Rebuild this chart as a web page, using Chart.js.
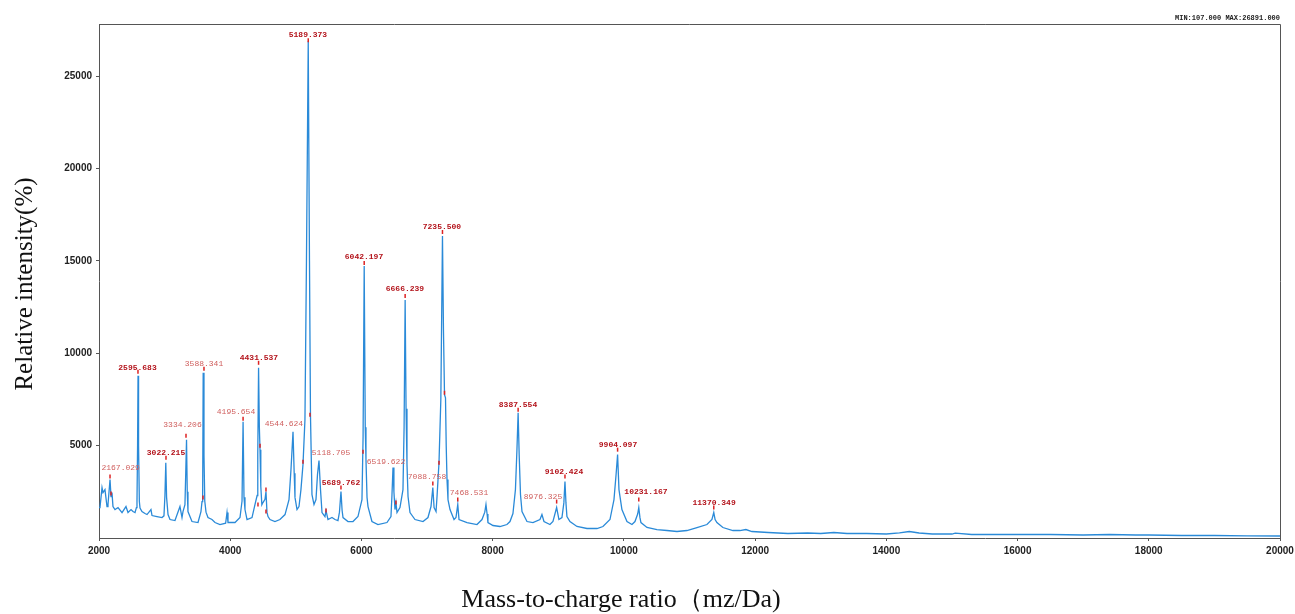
<!DOCTYPE html>
<html>
<head>
<meta charset="utf-8">
<script src="https://cdn.jsdelivr.net/npm/chart.js@4/dist/chart.umd.min.js"></script>
<style>
  html, body { margin: 0; padding: 0; background: #fff; }
  #wrap { width: 1295px; height: 614px; }
</style>
</head>
<body>
<div id="wrap"><canvas id="myChart" width="1295" height="614"></canvas></div>
<script>
// spectrum (m/z, intensity)
const mz = [
  2000, 2015, 2046, 2061, 2091, 2122, 2137, 2155, 2168, 2183, 2198, 2213, 2244, 2290, 2351, 2411, 2442, 2488, 2518, 2549,
  2570, 2579, 2588, 2595, 2603, 2615, 2625, 2655, 2701, 2732, 2792, 2808, 2884, 2960, 2990, 3005, 3018, 3030, 3052, 3082,
  3158, 3234, 3265, 3280, 3310, 3322, 3334, 3345, 3356, 3417, 3509, 3554, 3570, 3580, 3588, 3600, 3612, 3631, 3661, 3722,
  3768, 3844, 3930, 3951, 3966, 4073, 4149, 4180, 4196, 4210, 4225, 4256, 4332, 4377, 4410, 4420, 4432, 4444, 4454, 4466,
  4482, 4499, 4530, 4545, 4560, 4576, 4606, 4682, 4758, 4835, 4896, 4926, 4957, 4975, 4987, 5018, 5048, 5078, 5109, 5139,
  5162, 5189, 5208, 5223, 5246, 5277, 5307, 5330, 5353, 5376, 5399, 5444, 5460, 5490, 5551, 5597, 5642, 5665, 5688, 5705,
  5719, 5795, 5871, 5947, 6008, 6025, 6042, 6058, 6069, 6085, 6100, 6160, 6252, 6389, 6450, 6465, 6481, 6495, 6511, 6526,
  6542, 6587, 6633, 6650, 6666, 6680, 6694, 6710, 6740, 6816, 6938, 7014, 7060, 7088, 7107, 7137, 7152, 7182, 7210, 7235,
  7250, 7266, 7281, 7292, 7304, 7319, 7350, 7411, 7441, 7468, 7487, 7609, 7761, 7837, 7880, 7898, 7915, 7928, 8005, 8111,
  8218, 8264, 8309, 8347, 8370, 8388, 8404, 8424, 8447, 8523, 8614, 8721, 8751, 8782, 8873, 8919, 8975, 9010, 9056, 9085,
  9102, 9117, 9132, 9178, 9285, 9437, 9590, 9681, 9788, 9849, 9880, 9904, 9925, 9970, 10047, 10123, 10169, 10210, 10227, 10245,
  10260, 10352, 10504, 10656, 10809, 10961, 11114, 11266, 11342, 11370, 11390, 11418, 11509, 11662, 11768, 11860, 11951, 12200, 12500, 12800,
  13000, 13200, 13400, 13700, 14000, 14200, 14350, 14500, 14700, 15000, 15050, 15300, 15800, 16000, 16500, 17000, 17400, 17800, 18000, 18500,
  19000, 19500, 20000
];
const intensity = [
  1650, 1649, 2730, 2459, 2621, 1703, 1811, 2600, 3162, 2243, 2459, 1703, 1540, 1649, 1378, 1703, 1378, 1540, 1432, 1378,
  1650, 1973, 5000, 8783, 5000, 1973, 1620, 1432, 1324, 1270, 1540, 1216, 1162, 1108, 1200, 2300, 4080, 2200, 1270, 1000,
  946, 1703, 1108, 1432, 1800, 3500, 5324, 2500, 1432, 892, 838, 1432, 1973, 2400, 8945, 4500, 2000, 1400, 1108, 1000,
  838, 730, 800, 1378, 838, 838, 1108, 2000, 6297, 2200, 1540, 1000, 1108, 1811, 2300, 4500, 9221, 6000, 4783, 2800,
  1800, 1919, 2100, 2513, 1400, 1162, 1000, 892, 1000, 1270, 2081, 3702, 5756, 3500, 2200, 1540, 1703, 2621, 3973, 6405,
  15000, 26891, 15000, 6675, 2351, 1811, 2081, 3432, 4189, 2621, 1378, 1162, 1486, 1000, 1108, 1000, 946, 1400, 2513, 1500,
  1108, 892, 892, 1162, 2081, 5500, 14729, 6000, 4243, 2200, 1703, 892, 730, 838, 1162, 2300, 3811, 2500, 1540, 1919,
  1378, 1649, 2621, 6000, 12891, 7000, 4000, 2243, 1378, 1000, 892, 1108, 1703, 2730, 1649, 1432, 2243, 4080, 7500, 16350,
  11270, 7756, 7594, 5000, 3162, 2081, 1540, 1000, 1108, 1811, 1000, 838, 730, 1000, 1400, 1811, 1300, 838, 676, 622,
  730, 892, 1324, 2621, 4783, 6783, 4513, 2351, 1432, 892, 838, 1000, 1270, 892, 730, 892, 1649, 1000, 1108, 1900,
  3054, 1900, 1162, 892, 622, 514, 514, 622, 1000, 2081, 3400, 4513, 2621, 1540, 892, 730, 892, 1300, 1649, 1100,
  838, 568, 459, 405, 351, 405, 568, 730, 1000, 1378, 1000, 838, 568, 405, 405, 459, 351, 297, 243, 270,
  243, 297, 243, 243, 216, 280, 351, 270, 216, 216, 260, 189, 189, 189, 189, 162, 189, 162, 162, 135,
  135, 120, 107
];

// peak labels: text, label centre (m/z, intensity), marker (m/z, intensity), strong = dark bold red
const peakText = ['2167.029', '2595.683', '3022.215', '3334.206', '3588.341', '4195.654', '4431.537', '4544.624',
  '5118.705', '5189.373', '5689.762', '6042.197', '6519.622', '6666.239', '7088.758', '7235.500', '7468.531',
  '8387.554', '8976.325', '9102.424', '9904.097', '10231.167', '11370.349'];
const labelMz = [2330, 2587, 3021, 3273, 3600, 4088, 4438, 4819, 5536, 5185, 5688, 6039, 6374, 6663, 6999, 7227, 7639,
  8386, 8767, 9087, 9910, 10336, 11375];
const labelInt = [3810, 9215, 4621, 6107, 9432, 6837, 9756, 6161, 4621, 27214, 3000, 15215, 4135, 13485, 3324, 16837, 2459,
  7216, 2243, 3594, 5054, 2513, 1919];
const markMz = [2168, 2594, 3021, 3326, 3600, 4196, 4432, 4545, 5109, 5189, 5688, 6042, 6526, 6666, 7088, 7235, 7468,
  8388, 8975, 9102, 9904, 10227, 11370];
const markInt = [3324, 8999, 4351, 5540, 9162, 6459, 9486, 2621, 4135, 26944, 2730, 14891, 1919, 13107, 2946, 16567, 2081,
  6945, 1973, 3324, 4783, 2081, 1649];
const strong = [0, 1, 1, 0, 0, 0, 1, 0, 0, 1, 1, 1, 0, 1, 0, 1, 0, 1, 0, 1, 1, 1, 1];
// unlabelled little markers
const extraMz = [2183, 3585, 4423, 4545, 5216, 5460, 6024, 4454, 7182, 7266];
const extraInt = [2405, 2189, 1811, 1432, 6675, 1486, 4675, 5000, 4080, 7864];

const xTicks = [2000, 4000, 6000, 8000, 10000, 12000, 14000, 16000, 18000, 20000];
const yTicks = [5000, 10000, 15000, 20000, 25000];

const points = mz.map((m, i) => ({x: m, y: intensity[i]}));

const decorPlugin = {
  id: 'decor',
  afterDatasetsDraw(chart) {
    const ctx = chart.ctx;
    const xs = chart.scales.x, ys = chart.scales.y;
    const a = chart.chartArea;
    ctx.save();
    // top and right frame lines
    ctx.strokeStyle = '#555';
    ctx.lineWidth = 1;
    ctx.beginPath();
    ctx.moveTo(a.left, a.top + 0.5);
    ctx.lineTo(a.right + 0.5, a.top + 0.5);
    ctx.lineTo(a.right + 0.5, a.bottom);
    ctx.stroke();

    // markers
    ctx.strokeStyle = '#d22';
    ctx.lineWidth = 1.5;
    const mark = (m, v) => {
      const px = xs.getPixelForValue(m), py = ys.getPixelForValue(v);
      ctx.beginPath();
      ctx.moveTo(px, py - 2);
      ctx.lineTo(px, py + 2);
      ctx.stroke();
    };
    markMz.forEach((m, i) => mark(m, markInt[i]));
    extraMz.forEach((m, i) => mark(m, extraInt[i]));

    // labels
    ctx.textAlign = 'center';
    ctx.textBaseline = 'middle';
    peakText.forEach((t, i) => {
      ctx.font = (strong[i] ? 'bold ' : '') + '8px "Liberation Mono", monospace';
      ctx.fillStyle = strong[i] ? '#b3121a' : '#d0605f';
      ctx.fillText(t, xs.getPixelForValue(labelMz[i]), ys.getPixelForValue(labelInt[i]));
    });

    // min / max note
    ctx.font = 'bold 7px "Liberation Mono", monospace';
    ctx.fillStyle = '#222';
    ctx.textAlign = 'right';
    ctx.fillText('MIN:107.000 MAX:26891.000', a.right, 18);

    // axis titles
    ctx.fillStyle = '#111';
    ctx.font = '26px "Liberation Serif", serif';
    ctx.textAlign = 'center';
    ctx.fillText('Mass-to-charge ratio（mz/Da)', 621, 600);
    ctx.font = '25px "Liberation Serif", serif';
    ctx.translate(25, 284);
    ctx.rotate(-Math.PI / 2);
    ctx.fillText('Relative intensity(%)', 0, 0);
    ctx.restore();
  }
};

new Chart(document.getElementById('myChart').getContext('2d'), {
  type: 'line',
  data: {
    datasets: [{
      data: points,
      borderColor: '#2a8ad8',
      borderWidth: 1.3,
      pointRadius: 0,
      tension: 0,
      fill: false
    }]
  },
  options: {
    responsive: false,
    animation: false,
    events: [],
    layout: { padding: { top: 24, right: 15, left: 0, bottom: 0 } },
    plugins: { legend: { display: false }, tooltip: { enabled: false } },
    scales: {
      x: {
        type: 'linear',
        min: 2000,
        max: 20000,
        afterFit(s) { s.height = 76; s.paddingRight = 0; s.paddingLeft = 0; },
        afterBuildTicks(s) { s.ticks = xTicks.map(v => ({value: v})); },
        ticks: { callback: v => String(v), font: { family: 'Liberation Sans', size: 10, weight: 'bold' }, color: '#222', padding: 4, maxRotation: 0 },
        grid: { drawOnChartArea: false, tickLength: 3, color: '#555' },
        border: { color: '#555', width: 1 }
      },
      y: {
        min: 0,
        max: 27830,
        afterFit(s) { s.width = 99; s.paddingTop = 0; s.paddingBottom = 0; },
        afterBuildTicks(s) { s.ticks = yTicks.map(v => ({value: v})); },
        ticks: { callback: v => String(v), font: { family: 'Liberation Sans', size: 10, weight: 'bold' }, color: '#222', padding: 4 },
        grid: { drawOnChartArea: false, tickLength: 3, color: '#555' },
        border: { color: '#555', width: 1 }
      }
    }
  },
  plugins: [decorPlugin]
});
</script>
</body>
</html>
